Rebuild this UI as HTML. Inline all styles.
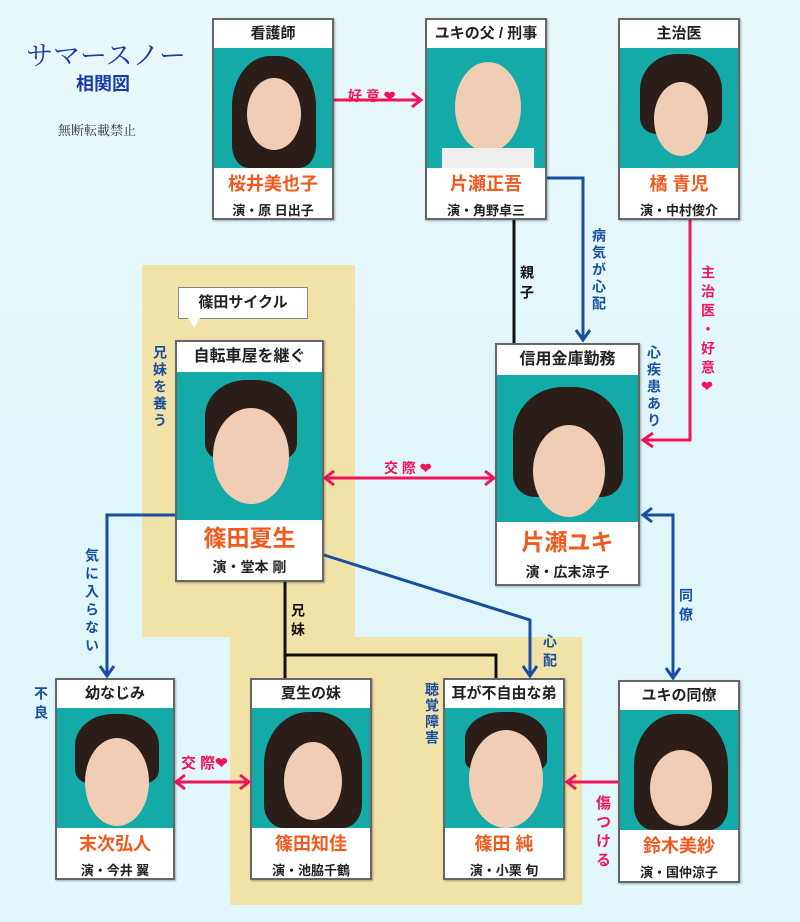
<!DOCTYPE html>
<html><head><meta charset="utf-8">
<style>
body{margin:0;width:800px;height:922px;overflow:hidden;background:linear-gradient(180deg,#e9f8fb,#dff6fa 60%,#e2f7fb);font-family:"Liberation Sans","Noto Sans CJK JP",sans-serif;position:relative}
.a{position:absolute}
.card{position:absolute;background:#fff;border:2px solid #666;box-sizing:border-box;box-shadow:1px 1px 2px rgba(0,0,0,.3)}
.card .h{text-align:center;font-size:15px;font-weight:bold;color:#222}
.card .p{background:#14aaa8;position:relative;overflow:hidden}
.card .n{text-align:center;color:#f05a1e;font-weight:bold}
.card .c{text-align:center;font-size:13px;font-weight:bold;color:#222}
.hair{position:absolute;background:#2b1d17;border-radius:45% 45% 20% 20%}
.face{position:absolute;background:#f0cdb4;border-radius:50%}
.v{position:absolute;writing-mode:vertical-rl;font-weight:bold;font-size:14px;line-height:16px;letter-spacing:3px}
.bl{color:#1a4fa0}.pk{color:#f0145a}.bk{color:#111}
</style></head><body>
<div class="a" style="left:142px;top:265px;width:213px;height:372px;background:#f1e2a8"></div>
<div class="a" style="left:230px;top:637px;width:352px;height:268px;background:#f1e2a8"></div>
<div class="a" style="left:26px;top:34px;font-family:'Liberation Serif','Noto Serif CJK SC',serif;color:#1a3aa8;font-size:27px">サマースノー</div>
<div class="a" style="left:76px;top:70px;color:#1a3aa8;font-size:18px;font-weight:bold">相関図</div>
<div class="a" style="left:58px;top:120px;color:#333;font-size:13px;font-family:'Liberation Serif','Noto Serif CJK SC',serif">無断転載禁止</div>

<svg class="a" style="left:0;top:0" width="800" height="922">
<g fill="none" stroke-width="3">
<path d="M334 100H420" stroke="#f0145a"/><path d="M412 93L421 100L412 107" stroke="#f0145a"/>
<path d="M547 178H583V338" stroke="#1a4fa0"/><path d="M576 330L583 340L590 330" stroke="#1a4fa0"/>
<path d="M514 220V343" stroke="#111"/>
<path d="M690 220V440H645" stroke="#f0145a"/><path d="M653 433L643 440L653 447" stroke="#f0145a"/>
<path d="M326 478H493" stroke="#f0145a"/><path d="M334 471L325 478L334 485M485 471L494 478L485 485" stroke="#f0145a"/>
<path d="M175 515H107V674" stroke="#1a4fa0"/><path d="M100 666L107 676L114 666" stroke="#1a4fa0"/>
<path d="M324 555L530 620V674" stroke="#1a4fa0"/><path d="M523 666L530 676L537 666" stroke="#1a4fa0"/>
<path d="M285 582V678M285 655H496V678" stroke="#111"/>
<path d="M644 515H673V676" stroke="#1a4fa0"/><path d="M652 508L643 515L652 522" stroke="#1a4fa0"/><path d="M666 668L673 678L680 668" stroke="#1a4fa0"/>
<path d="M177 782H248" stroke="#f0145a"/><path d="M185 775L176 782L185 789M240 775L249 782L240 789" stroke="#f0145a"/>
<path d="M618 782H568" stroke="#f0145a"/><path d="M576 775L567 782L576 789" stroke="#f0145a"/>
</g></svg>

<div class="a pk" style="left:348px;top:86px;font-weight:bold;font-size:14px">好 意 ❤</div>
<div class="v bl" style="left:591px;top:228px">病気が心配</div>
<div class="v bk" style="left:519px;top:265px;letter-spacing:6px">親子</div>
<div class="v pk" style="left:700px;top:265px;letter-spacing:5px">主治医・好意❤</div>
<div class="v bl" style="left:646px;top:345px">心疾患あり</div>
<div class="a pk" style="left:384px;top:458px;font-weight:bold;font-size:14px">交 際 ❤</div>
<div class="v bl" style="left:152px;top:345px">兄妹を養う</div>
<div class="v bl" style="left:84px;top:548px;letter-spacing:4px">気に入らない</div>
<div class="v bk" style="left:290px;top:603px;letter-spacing:5px">兄妹</div>
<div class="v bl" style="left:542px;top:634px;letter-spacing:5px">心配</div>
<div class="v bl" style="left:678px;top:588px;letter-spacing:5px">同僚</div>
<div class="v bl" style="left:33px;top:686px;letter-spacing:5px">不良</div>
<div class="a pk" style="left:181px;top:752px;font-weight:bold;font-size:15px">交 際❤</div>
<div class="v bl" style="left:424px;top:682px;letter-spacing:2px">聴覚障害</div>
<div class="v pk" style="left:593px;top:795px;font-size:15px;line-height:18px;letter-spacing:4px">傷つける</div>

<div class="a" style="left:178px;top:287px;width:130px;height:32px;background:#fff;border:1px solid #888;box-sizing:border-box;font-weight:bold;font-size:15px;text-align:center;line-height:30px;color:#222">篠田サイクル</div>
<div class="a" style="left:188px;top:318px;width:0;height:0;border-left:6px solid transparent;border-right:6px solid transparent;border-top:10px solid #fff"></div>

<div class="card" style="left:212px;top:18px;width:122px;height:202px"><div class="h" style="height:28px;line-height:28px">看護師</div><div class="p" style="height:120px"><div class="hair" style="left:18px;top:8px;width:84px;height:112px"></div><div class="face" style="left:33px;top:30px;width:54px;height:72px"></div></div><div class="n" style="font-size:18px;height:32px;line-height:32px">桜井美也子</div><div class="c">演・原 日出子</div></div>
<div class="card" style="left:425px;top:18px;width:122px;height:202px"><div class="h" style="height:28px;line-height:28px">ユキの父 / 刑事</div><div class="p" style="height:120px"><div class="face" style="left:28px;top:14px;width:66px;height:90px"></div><div class="a" style="left:15px;top:100px;width:92px;height:20px;background:#eee"></div></div><div class="n" style="font-size:18px;height:32px;line-height:32px">片瀬正吾</div><div class="c">演・角野卓三</div></div>
<div class="card" style="left:618px;top:18px;width:122px;height:202px"><div class="h" style="height:28px;line-height:28px">主治医</div><div class="p" style="height:120px"><div class="hair" style="left:20px;top:6px;width:82px;height:80px"></div><div class="face" style="left:34px;top:34px;width:54px;height:74px"></div></div><div class="n" style="font-size:18px;height:32px;line-height:32px">橘 青児</div><div class="c">演・中村俊介</div></div>

<div class="card" style="left:175px;top:340px;width:149px;height:242px"><div class="h" style="height:30px;line-height:30px;font-size:16px">自転車屋を継ぐ</div><div class="p" style="height:148px"><div class="hair" style="left:28px;top:8px;width:92px;height:80px"></div><div class="face" style="left:36px;top:36px;width:76px;height:96px"></div></div><div class="n" style="font-size:23px;height:37px;line-height:37px">篠田夏生</div><div class="c" style="font-size:14px">演・堂本 剛</div></div>
<div class="card" style="left:495px;top:343px;width:145px;height:243px"><div class="h" style="height:30px;line-height:30px;font-size:16px">信用金庫勤務</div><div class="p" style="height:147px"><div class="hair" style="left:16px;top:12px;width:110px;height:110px"></div><div class="face" style="left:36px;top:50px;width:72px;height:92px"></div></div><div class="n" style="font-size:23px;height:40px;line-height:40px">片瀬ユキ</div><div class="c" style="font-size:14px">演・広末涼子</div></div>

<div class="card" style="left:55px;top:678px;width:120px;height:202px"><div class="h" style="height:28px;line-height:28px">幼なじみ</div><div class="p" style="height:120px"><div class="hair" style="left:18px;top:6px;width:84px;height:70px"></div><div class="face" style="left:28px;top:30px;width:64px;height:88px"></div></div><div class="n" style="font-size:18px;height:32px;line-height:32px">末次弘人</div><div class="c">演・今井 翼</div></div>
<div class="card" style="left:250px;top:678px;width:122px;height:202px"><div class="h" style="height:28px;line-height:28px">夏生の妹</div><div class="p" style="height:120px"><div class="hair" style="left:12px;top:4px;width:98px;height:116px"></div><div class="face" style="left:32px;top:34px;width:58px;height:78px"></div></div><div class="n" style="font-size:18px;height:32px;line-height:32px">篠田知佳</div><div class="c">演・池脇千鶴</div></div>
<div class="card" style="left:443px;top:678px;width:122px;height:202px"><div class="h" style="height:28px;line-height:28px">耳が不自由な弟</div><div class="p" style="height:120px"><div class="hair" style="left:20px;top:4px;width:82px;height:60px"></div><div class="face" style="left:24px;top:22px;width:74px;height:98px"></div></div><div class="n" style="font-size:18px;height:32px;line-height:32px">篠田 純</div><div class="c">演・小栗 旬</div></div>
<div class="card" style="left:618px;top:680px;width:122px;height:203px"><div class="h" style="height:28px;line-height:28px">ユキの同僚</div><div class="p" style="height:120px"><div class="hair" style="left:14px;top:4px;width:94px;height:116px"></div><div class="face" style="left:30px;top:40px;width:62px;height:76px"></div></div><div class="n" style="font-size:18px;height:32px;line-height:32px">鈴木美紗</div><div class="c">演・国仲涼子</div></div>
</body></html>
